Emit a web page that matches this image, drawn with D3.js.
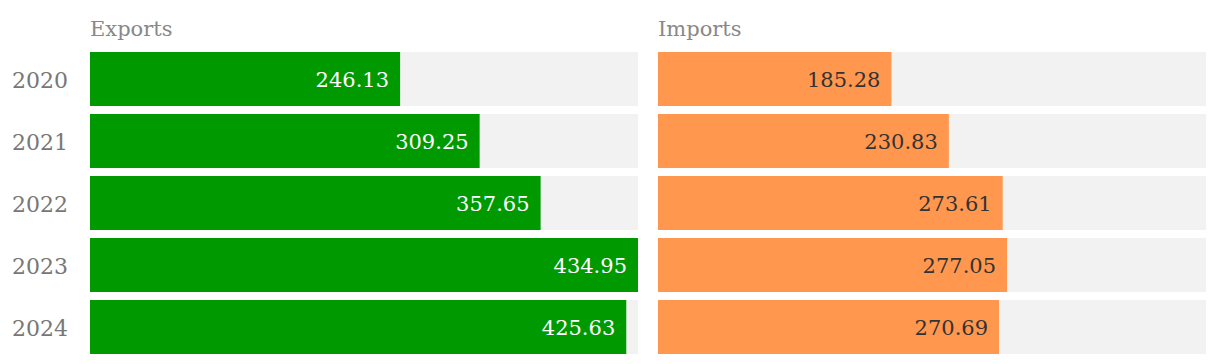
<!DOCTYPE html>
<html>
<head>
<meta charset="utf-8">
<script src="https://cdn.jsdelivr.net/npm/d3@7"></script>
<style>
  body { margin: 0; background: #fff; }
  svg text { font-family: "DejaVu Serif", "Liberation Serif", serif; }
</style>
</head>
<body>
<div id="chart"></div>
<script>
// données
var years = ["2020", "2021", "2022", "2023", "2024"];
var exportsValues = [246.13, 309.25, 357.65, 434.95, 425.63];
var importsValues = [185.28, 230.83, 273.61, 277.05, 270.69];
var panelTitles = ["Exports", "Imports"];

var width = 1220,
    height = 364;

var svg = d3.select("#chart").append("svg")
  .attr("width", width)
  .attr("height", height);

// échelles
var panelWidth = 548,
    panelGap = 20,
    left = 90;

var y = d3.scaleBand()
  .domain(years)
  .range([52, 354])
  .paddingInner(8 / 62)
  .paddingOuter(0);

var x = d3.scaleLinear()
  .domain([0, d3.max(exportsValues.concat(importsValues))])
  .range([0, panelWidth]);

var panels = [
  { title: panelTitles[0], values: exportsValues, color: "#009900", text: "#ffffff" },
  { title: panelTitles[1], values: importsValues, color: "#ff974f", text: "#333333" }
];

// étiquettes des années
svg.append("g").selectAll("text")
  .data(years)
  .enter().append("text")
  .attr("x", 68)
  .attr("y", function (d) { return y(d) + y.bandwidth() / 2; })
  .attr("dy", "0.4em")
  .attr("text-anchor", "end")
  .attr("fill", "#777")
  .attr("font-size", 22)
  .text(function (d) { return d; });

panels.forEach(function (p, i) {
  var g = svg.append("g")
    .attr("transform", "translate(" + (left + i * (panelWidth + panelGap)) + ",0)");

  g.append("text")
    .attr("x", 0)
    .attr("y", 36)
    .attr("fill", "#888")
    .attr("font-size", 21)
    .text(p.title);

  var rows = g.selectAll("g.row")
    .data(p.values)
    .enter().append("g")
    .attr("class", "row")
    .attr("transform", function (d, j) { return "translate(0," + y(years[j]) + ")"; });

  // fond gris
  rows.append("rect")
    .attr("width", x.range()[1])
    .attr("height", y.bandwidth())
    .attr("fill", "#f2f2f2");

  rows.append("rect")
    .attr("width", function (d) { return x(d); })
    .attr("height", y.bandwidth())
    .attr("fill", p.color);

  rows.append("text")
    .attr("x", function (d) { return x(d) - 11; })
    .attr("y", y.bandwidth() / 2)
    .attr("dy", "0.4em")
    .attr("text-anchor", "end")
    .attr("fill", p.text)
    .attr("font-size", 21)
    .text(function (d) { return d3.format(".2f")(d); });
});
</script>
</body>
</html>
